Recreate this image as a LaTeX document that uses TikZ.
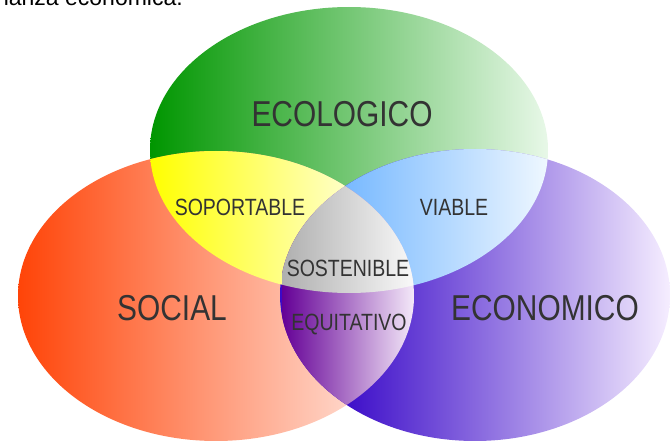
\documentclass[tikz,border=0pt]{standalone}
\usepackage{fontspec}
\setmainfont{Liberation Sans}
\newfontfamily\narrowfont[FakeStretch=0.83]{Liberation Sans}
\definecolor{ecodark}{RGB}{0,150,0}
\definecolor{ecolight}{RGB}{232,248,232}
\definecolor{socdark}{RGB}{255,68,8}
\definecolor{soclight}{RGB}{255,242,238}
\definecolor{ecndark}{RGB}{58,10,200}
\definecolor{ecnlight}{RGB}{246,238,255}
\definecolor{yeldark}{RGB}{255,255,0}
\definecolor{yellight}{RGB}{255,255,238}
\definecolor{bludark}{RGB}{120,185,255}
\definecolor{blulight}{RGB}{240,248,255}
\definecolor{viodark}{RGB}{100,0,150}
\definecolor{violight}{RGB}{246,236,250}
\definecolor{grydark}{RGB}{175,175,175}
\definecolor{grylight}{RGB}{250,250,250}
\definecolor{txtgray}{RGB}{51,51,51}
\usetikzlibrary{positioning}

\begin{document}
\begin{tikzpicture}[x=1pt,y=-1pt,
  setlabel/.style={text=txtgray, inner sep=0pt, font=\narrowfont\fontsize{36}{36}\selectfont},
  zonelabel/.style={text=txtgray, inner sep=0pt, font=\narrowfont\fontsize{23.5}{24}\selectfont}]
  \useasboundingbox (0,0) rectangle (670,441);
  % line of page text cut by the top edge
  \node[anchor=base east, inner sep=0pt, text=black, font=\fontsize{23}{23}\selectfont] (pagetext) at (183,6) {bonanza económica.};
  % the three sets
  \shade[left color=ecodark, right color=ecolight] (349,150) ellipse [x radius=199pt, y radius=143pt];
  \shade[left color=socdark, right color=soclight] (216,296) ellipse [x radius=198pt, y radius=145pt];
  \begin{scope}
    \clip (475,295) ellipse [x radius=195pt, y radius=146pt];
    \fill[ecndark] (270,140) rectangle (340,450);
    \shade[left color=ecndark, right color=ecnlight] (340,140) rectangle (671,450);
  \end{scope}
  % ecologico + social
  \begin{scope}
    \clip (349,150) ellipse [x radius=199pt, y radius=143pt];
    \clip (216,296) ellipse [x radius=198pt, y radius=145pt];
    \shade[left color=yeldark, right color=yellight] (150,140) rectangle (385,300);
  \end{scope}
  % ecologico + economico
  \begin{scope}
    \clip (349,150) ellipse [x radius=199pt, y radius=143pt];
    \clip (475,295) ellipse [x radius=195pt, y radius=146pt];
    \shade[left color=bludark, right color=blulight] (345,140) rectangle (550,300);
  \end{scope}
  % social + economico
  \begin{scope}
    \clip (216,296) ellipse [x radius=198pt, y radius=145pt];
    \clip (475,295) ellipse [x radius=195pt, y radius=146pt];
    \shade[left color=viodark, right color=violight] (282,140) rectangle (416,420);
  \end{scope}
  % all three
  \begin{scope}
    \clip (349,150) ellipse [x radius=199pt, y radius=143pt];
    \clip (216,296) ellipse [x radius=198pt, y radius=145pt];
    \clip (475,295) ellipse [x radius=195pt, y radius=146pt];
    \shade[left color=grydark, right color=grylight] (282,140) rectangle (416,300);
  \end{scope}
  % labels
  \node[setlabel] (ecologico) at (342,114) {ECOLOGICO};
  \node[setlabel] (social) at (172,308) {SOCIAL};
  \node[setlabel] (economico) at (545,308) {ECONOMICO};
  \node[zonelabel] (soportable) at (240,207) {SOPORTABLE};
  \node[zonelabel] (viable) at (454,207) {VIABLE};
  \node[zonelabel] (sostenible) at (348,268) {SOSTENIBLE};
  \node[zonelabel] (equitativo) at (349,325) {EQUITATIVO};
\end{tikzpicture}
\end{document}
